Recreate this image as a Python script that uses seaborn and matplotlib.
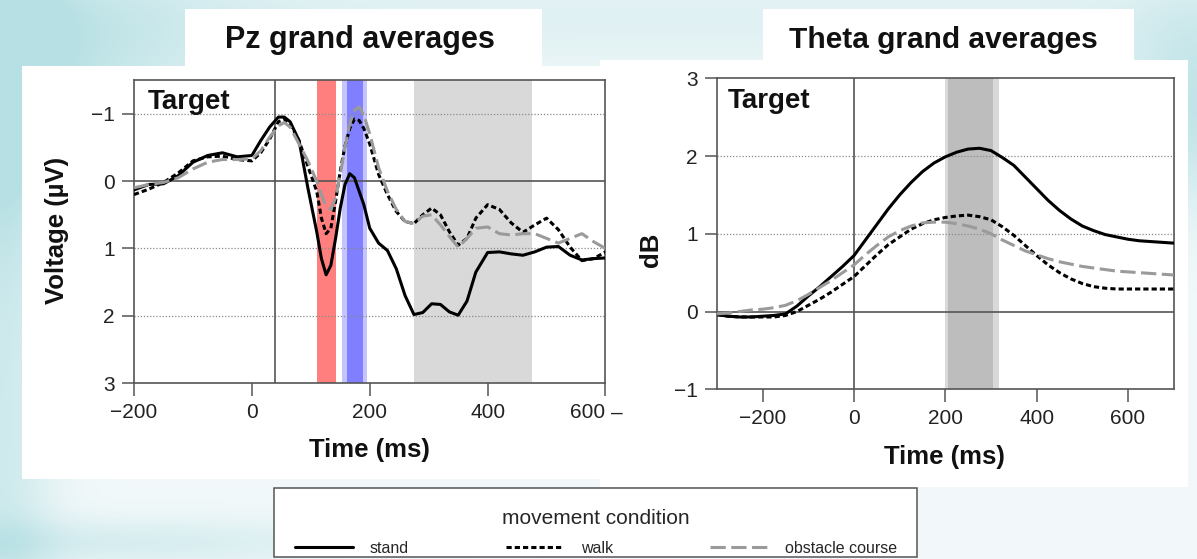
import numpy as np
import pandas as pd
import matplotlib
matplotlib.use("Agg")
import matplotlib.pyplot as plt
import seaborn as sns
from matplotlib.patches import Rectangle

sns.set_theme(style="white")
plt.rcParams["font.family"] = ["Liberation Sans", "DejaVu Sans"]

# ---------------- data ----------------
conditions = ["stand", "walk", "obstacle course"]

pz_time = [-200, -175, -150, -125, -100, -75, -50, -25, 0, 15, 30, 45, 55, 65, 80, 95,
           110, 118, 126, 134, 142, 150, 158, 166, 174, 182, 190, 200, 215, 230, 245,
           260, 275, 290, 305, 320, 335, 350, 365, 380, 400, 420, 440, 460, 480, 500,
           520, 540, 560, 580, 600]
pz_stand = [0.13, 0.05, 0.04, -0.08, -0.28, -0.38, -0.42, -0.36, -0.38, -0.6, -0.8, -0.95,
            -0.95, -0.88, -0.6, 0.1, 0.75, 1.15, 1.39, 1.25, 0.85, 0.4, 0.05, -0.11, -0.05,
            0.15, 0.35, 0.7, 0.92, 1.03, 1.3, 1.7, 1.98, 1.95, 1.82, 1.83, 1.94, 1.99, 1.78,
            1.35, 1.06, 1.05, 1.08, 1.1, 1.05, 0.98, 0.97, 1.1, 1.17, 1.15, 1.14]
pz_walk = [0.2, 0.12, 0.02, -0.12, -0.3, -0.36, -0.37, -0.32, -0.3, -0.42, -0.62, -0.88,
           -0.92, -0.85, -0.6, -0.22, 0.15, 0.55, 0.78, 0.7, 0.3, -0.15, -0.52, -0.78, -0.92,
           -0.9, -0.78, -0.55, -0.1, 0.2, 0.45, 0.6, 0.63, 0.5, 0.4, 0.5, 0.75, 0.95, 0.85,
           0.55, 0.35, 0.42, 0.62, 0.76, 0.65, 0.55, 0.72, 0.98, 1.18, 1.15, 1.05]
pz_obstacle = [0.1, 0.05, 0.02, -0.05, -0.18, -0.28, -0.32, -0.32, -0.33, -0.45, -0.65, -0.82,
               -0.87, -0.8, -0.55, -0.3, 0.0, 0.2, 0.38, 0.42, 0.25, -0.1, -0.5, -0.85, -1.05,
               -1.1, -0.98, -0.7, -0.2, 0.15, 0.42, 0.6, 0.63, 0.52, 0.5, 0.65, 0.82, 0.98,
               0.85, 0.7, 0.68, 0.78, 0.8, 0.78, 0.78, 0.85, 0.92, 0.85, 0.78, 0.9, 1.0]

theta_time = [-300, -275, -250, -225, -200, -175, -150, -125, -100, -75, -50, -25, 0, 25,
              50, 75, 100, 125, 150, 175, 200, 225, 250, 275, 300, 325, 350, 375, 400, 425,
              450, 475, 500, 525, 550, 575, 600, 625, 650, 675, 700]
theta_stand = [-0.04, -0.06, -0.07, -0.07, -0.06, -0.05, -0.03, 0.07, 0.2, 0.32, 0.45, 0.58,
               0.72, 0.92, 1.12, 1.32, 1.5, 1.66, 1.8, 1.91, 1.99, 2.05, 2.09, 2.1, 2.07,
               1.98, 1.88, 1.73, 1.58, 1.43, 1.3, 1.19, 1.1, 1.04, 0.99, 0.96, 0.93, 0.91,
               0.9, 0.89, 0.88]
theta_walk = [-0.04, -0.06, -0.07, -0.07, -0.07, -0.07, -0.05, 0.0, 0.08, 0.16, 0.25, 0.35,
              0.45, 0.59, 0.73, 0.86, 0.96, 1.06, 1.13, 1.18, 1.21, 1.23, 1.24, 1.22, 1.18,
              1.09, 0.98, 0.85, 0.72, 0.6, 0.5, 0.42, 0.36, 0.32, 0.3, 0.29, 0.29, 0.29,
              0.29, 0.29, 0.29]
theta_obstacle = [-0.03, -0.02, 0.0, 0.02, 0.03, 0.05, 0.08, 0.14, 0.22, 0.31, 0.4, 0.5,
                  0.6, 0.73, 0.85, 0.96, 1.04, 1.1, 1.14, 1.15, 1.15, 1.13, 1.1, 1.06, 1.0,
                  0.92, 0.85, 0.78, 0.73, 0.68, 0.64, 0.61, 0.58, 0.56, 0.54, 0.52, 0.51,
                  0.5, 0.49, 0.48, 0.47]

pz_df = pd.DataFrame({
    "time": pz_time * 3,
    "value": pz_stand + pz_walk + pz_obstacle,
    "condition": np.repeat(conditions, len(pz_time)),
})
theta_df = pd.DataFrame({
    "time": theta_time * 3,
    "value": theta_stand + theta_walk + theta_obstacle,
    "condition": np.repeat(conditions, len(theta_time)),
})

palette = {"stand": "#000000", "walk": "#000000", "obstacle course": "#9a9a9a"}
dashes = {"stand": "", "walk": (1.7, 1.0), "obstacle course": (5.0, 1.8)}
LW = 2.2

# ---------------- figure ----------------
W, H = 1197, 559
fig = plt.figure(figsize=(W / 100, H / 100), dpi=100)


def fx(px):
    return px / W


def fy(py):
    return 1 - py / H


# decorative slide background
bg = fig.add_axes([0, 0, 1, 1], zorder=-5)
bg.axis("off")
yy, xx = np.mgrid[0:H, 0:W]
u = xx / W
v = yy / H
w = (0.85 * np.exp(-((u - 0.0) ** 2 / 0.03 + (v - 0.15) ** 2 / 0.06))
     + 0.6 * np.exp(-((u - 0.0) ** 2 / 0.002))
     + 0.8 * np.exp(-((u - 1.0) ** 2 / 0.004 + (v - 0.2) ** 2 / 0.03))
     + 0.45 * np.exp(-((v - 0.97) ** 2 / 0.002)) * np.exp(-(u - 0.1) ** 2 / 0.05)
     + 0.3 * np.exp(-((v - 0.03) ** 2 / 0.01)))
w = np.clip(w, 0, 1)
base = np.array([0.95, 0.975, 0.98])
teal = np.array([0.72, 0.88, 0.895])
img = base[None, None, :] * (1 - w[..., None]) + teal[None, None, :] * w[..., None]
bg.imshow(img, aspect="auto", extent=[0, 1, 0, 1], origin="upper")
bg.set_xlim(0, 1)
bg.set_ylim(0, 1)


def box(x0, y0, x1, y1, edge="none", lw=0.0, z=-1):
    fig.add_artist(Rectangle((fx(x0), fy(y1)), (x1 - x0) / W, (y1 - y0) / H,
                             transform=fig.transFigure, facecolor="white",
                             edgecolor=edge, linewidth=lw, zorder=z))


box(185, 9, 542, 66)
box(22, 66, 620, 479)
box(763, 9, 1134, 60)
box(600, 60, 1188, 487)
box(274, 488, 917, 557, edge="#555555", lw=1.1, z=3)

ax1 = fig.add_axes([fx(134), fy(383.3), (605.5 - 134) / W, (383.3 - 80) / H], zorder=2)
ax2 = fig.add_axes([fx(717), fy(389.3), (1173.7 - 717) / W, (389.3 - 78.3) / H], zorder=2)

grid_kw = dict(color="#8a8a8a", lw=0.9, ls=(0, (1, 1.5)), zorder=1)
axis_kw = dict(color="#555555", lw=1.2, zorder=1)

# ---- left panel (Pz) ----
ax1.axvspan(111, 142, color="#ff7f7f", lw=0, zorder=0)
ax1.axvspan(153, 195, color="#c4c4ff", lw=0, zorder=0)
ax1.axvspan(162, 188, color="#7f7fff", lw=0, zorder=0)
ax1.axvspan(275, 475, color="#d9d9d9", lw=0, zorder=0)
for g in [-1, 1, 2]:
    ax1.axhline(g, **grid_kw)
ax1.axhline(0, **axis_kw)
ax1.axvline(40, **axis_kw)

sns.lineplot(data=pz_df, x="time", y="value", hue="condition", style="condition",
             palette=palette, dashes=dashes, ax=ax1, legend=False, zorder=3, lw=LW)

ax1.set_xlim(-200, 600)
ax1.set_ylim(3, -1.5)
ax1.set_xticks([-200, 0, 200, 400, 600])
ax1.set_yticks([-1, 0, 1, 2, 3])
ax1.text(0.03, 0.97, "Target", transform=ax1.transAxes, ha="left", va="top",
         fontsize=20, fontweight="bold", color="#111111")
ax1.set_xlabel("Time (ms)", fontsize=18.5, fontweight="bold", color="#111111")
ax1.set_ylabel("Voltage (µV)", fontsize=18.5, fontweight="bold", color="#111111")
ax1.xaxis.set_label_coords(0.5, -0.22)
ax1.xaxis.label.set_va("center")
ax1.yaxis.set_label_coords(-0.163, 0.505)
ax1.yaxis.label.set_va("center")

# ---- right panel (theta) ----
ax2.axvspan(200, 317, color="#d9d9d9", lw=0, zorder=0)
ax2.axvspan(206, 304, color="#bdbdbd", lw=0, zorder=0)
for g in [1, 2]:
    ax2.axhline(g, **grid_kw)
ax2.axhline(0, **axis_kw)
ax2.axvline(0, **axis_kw)

sns.lineplot(data=theta_df, x="time", y="value", hue="condition", style="condition",
             palette=palette, dashes=dashes, ax=ax2, legend="full", zorder=3, lw=LW)
handles, labels = ax2.get_legend_handles_labels()
ax2.get_legend().remove()
for h in handles:
    h.set_linewidth(LW)

ax2.set_xlim(-300, 700)
ax2.set_ylim(-1, 3)
ax2.set_xticks([-200, 0, 200, 400, 600])
ax2.set_yticks([-1, 0, 1, 2, 3])
ax2.text(0.024, 0.968, "Target", transform=ax2.transAxes, ha="left", va="top",
         fontsize=20, fontweight="bold", color="#111111")
ax2.set_xlabel("Time (ms)", fontsize=18.5, fontweight="bold", color="#111111")
ax2.set_ylabel("dB", fontsize=18.5, fontweight="bold", color="#111111")
ax2.xaxis.set_label_coords(0.499, -0.218)
ax2.xaxis.label.set_va("center")
ax2.yaxis.set_label_coords(-0.145, 0.45)
ax2.yaxis.label.set_va("center")

for ax in (ax1, ax2):
    ax.set_facecolor("white")
    for sp in ax.spines.values():
        sp.set_visible(True)
        sp.set_color("#555555")
        sp.set_linewidth(1.2)
    ax.tick_params(axis="both", which="major", bottom=True, left=True, direction="out",
                   length=9, width=1.1, color="#555555", pad=5, labelsize=15,
                   labelcolor="#222222")

# the last label of the left panel sits left of its tick, followed by a dash
fig.canvas.draw()
ax1.get_xticklabels()[-1].set_ha("right")
fig.text(fx(617), fy(413), "–", ha="center", va="center", fontsize=15,
         color="#222222", zorder=3)

# titles
fig.text(fx(360), fy(40), "Pz grand averages", ha="center", va="center",
         fontsize=22, fontweight="bold", color="#111111", zorder=3)
fig.text(fx(943), fy(40), "Theta grand averages", ha="center", va="center",
         fontsize=21.5, fontweight="bold", color="#111111", zorder=3)

# legend
leg = fig.legend(handles, labels, ncol=3, title="movement condition",
                 loc="upper left", bbox_to_anchor=(fx(295), fy(509), (897 - 295) / W, 0.0),
                 mode="expand", frameon=False, fontsize=11.5,
                 title_fontsize=15, handlelength=3.6, borderaxespad=0, borderpad=0,
                 handletextpad=1.1, columnspacing=2.0, labelspacing=0.8)
leg.set_zorder(4)

fig.savefig("out.png", dpi=100)
